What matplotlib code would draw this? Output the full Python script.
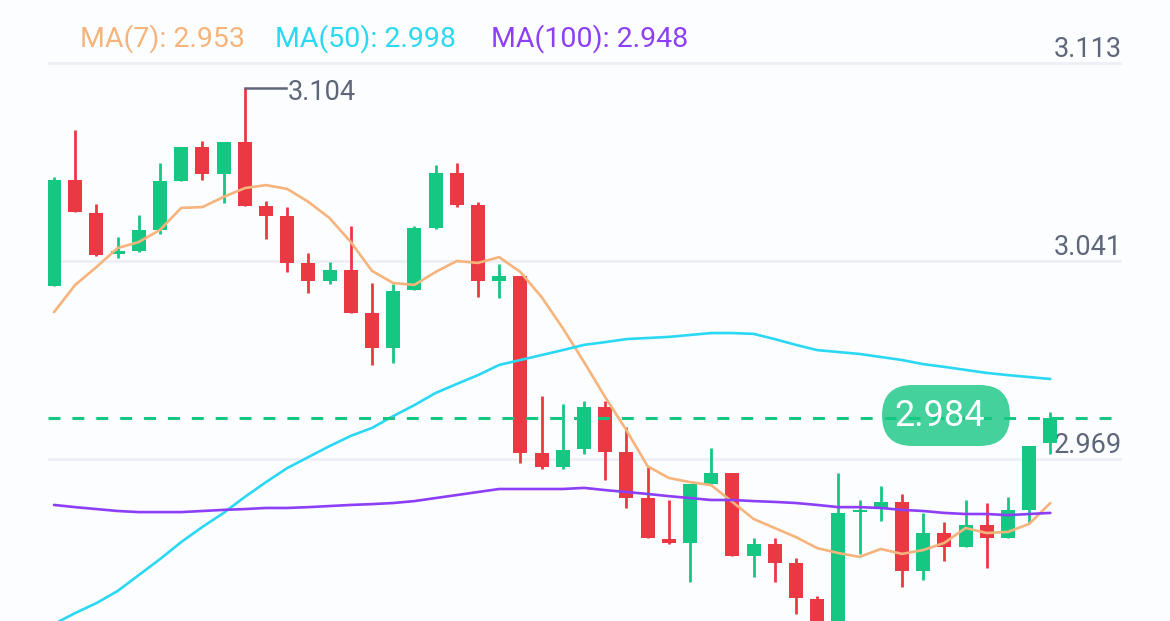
import numpy as np
import matplotlib.pyplot as plt
import matplotlib.patches as mpatches
import matplotlib.transforms as mtransforms

plt.rcParams['font.family'] = ['Roboto', 'DejaVu Sans']
plt.rcParams['lines.scale_dashes'] = False

# candles
opens = [3.0319, 3.0705, 3.0585, 3.0435, 3.0446, 3.0523, 3.0701, 3.0825, 3.0726, 3.0843,
         3.0610, 3.0574, 3.0403, 3.0337, 3.0377, 3.0221, 3.0094, 3.0305, 3.0530, 3.0730,
         3.0614, 3.0337, 3.0355, 2.9712, 2.9661, 2.9726, 2.9879, 2.9715, 2.9548, 2.9399,
         2.9385, 2.9599, 2.9639, 2.9337, 2.9381, 2.9312, 2.9181, 2.9060, 2.9497, 2.9512,
         2.9534, 2.9283, 2.9421, 2.9370, 2.9450, 2.9403, 2.9505, 2.9748]
highs = [3.0715, 3.0886, 3.0617, 3.0497, 3.0577, 3.0766, 3.0825, 3.0846, 3.0843, 3.1040,
         3.0628, 3.0606, 3.0439, 3.0406, 3.0537, 3.0330, 3.0326, 3.0537, 3.0759, 3.0766,
         3.0625, 3.0399, 3.0355, 2.9919, 2.9890, 2.9901, 2.9901, 2.9806, 2.9661, 2.9541,
         2.9599, 2.9730, 2.9639, 2.9403, 2.9403, 2.9330, 2.9192, 2.9639, 2.9541, 2.9592,
         2.9563, 2.9494, 2.9461, 2.9541, 2.9530, 2.9552, 2.9737, 2.9861]
lows = [3.0319, 3.0588, 3.0428, 3.0421, 3.0443, 3.0508, 3.0701, 3.0705, 3.0621, 3.0610,
        3.0490, 3.0370, 3.0294, 3.0326, 3.0221, 3.0032, 3.0039, 3.0305, 3.0526, 3.0606,
        3.0279, 3.0275, 2.9675, 2.9654, 2.9654, 2.9708, 2.9614, 2.9512, 2.9403, 2.9381,
        2.9243, 2.9599, 2.9337, 2.9261, 2.9243, 2.9126, 2.9030, 2.9020, 2.9345, 2.9465,
        2.9225, 2.9250, 2.9319, 2.9370, 2.9294, 2.9403, 2.9457, 2.9708]
closes = [3.0705, 3.0588, 3.0432, 3.0446, 3.0523, 3.0701, 3.0825, 3.0726, 3.0843, 3.0610,
          3.0574, 3.0403, 3.0337, 3.0377, 3.0221, 3.0094, 3.0301, 3.0530, 3.0730, 3.0614,
          3.0337, 3.0355, 2.9712, 2.9661, 2.9723, 2.9879, 2.9715, 2.9548, 2.9403, 2.9385,
          2.9599, 2.9639, 2.9337, 2.9381, 2.9312, 2.9185, 2.9060, 2.9494, 2.9505, 2.9534,
          2.9283, 2.9421, 2.9370, 2.9450, 2.9403, 2.9505, 2.9737, 2.9840]

ma7 = [3.0224, 3.0323, 3.0388, 3.0457, 3.0479, 3.0523, 3.0603, 3.0606, 3.0643, 3.0675,
       3.0686, 3.0672, 3.0625, 3.0566, 3.0479, 3.0374, 3.0330, 3.0323, 3.0370, 3.0410,
       3.0403, 3.0424, 3.0370, 3.0279, 3.0166, 3.0043, 2.9915, 2.9795, 2.9664, 2.9621,
       2.9606, 2.9595, 2.9534, 2.9472, 2.9439, 2.9406, 2.9366, 2.9348, 2.9334, 2.9363,
       2.9345, 2.9359, 2.9385, 2.9439, 2.9421, 2.9425, 2.9454, 2.9530]
ma50 = [2.9090, 2.9130, 2.9166, 2.9210, 2.9268, 2.9326, 2.9388, 2.9443, 2.9494, 2.9552,
        2.9606, 2.9657, 2.9697, 2.9737, 2.9774, 2.9803, 2.9846, 2.9886, 2.9930, 2.9963,
        2.9995, 3.0032, 3.0050, 3.0068, 3.0086, 3.0105, 3.0115, 3.0126, 3.0130, 3.0134,
        3.0141, 3.0148, 3.0148, 3.0145, 3.0126, 3.0105, 3.0086, 3.0079, 3.0072, 3.0061,
        3.0050, 3.0035, 3.0025, 3.0014, 3.0003, 2.9995, 2.9988, 2.9981]
ma100 = [2.9523, 2.9515, 2.9508, 2.9501, 2.9497, 2.9497, 2.9497, 2.9501, 2.9505, 2.9508,
         2.9512, 2.9512, 2.9515, 2.9519, 2.9523, 2.9526, 2.9530, 2.9537, 2.9548, 2.9559,
         2.9570, 2.9581, 2.9581, 2.9581, 2.9581, 2.9585, 2.9577, 2.9570, 2.9563, 2.9555,
         2.9548, 2.9541, 2.9541, 2.9537, 2.9534, 2.9530, 2.9523, 2.9515, 2.9515, 2.9512,
         2.9505, 2.9501, 2.9494, 2.9490, 2.9490, 2.9486, 2.9490, 2.9494]

grid_prices = [3.113, 3.041, 2.969]
grid_labels = ['3.113', '3.041', '2.969']
last_price = 2.984
high_price = 3.104
legend_texts = ['MA(7): 2.953', 'MA(50): 2.998', 'MA(100): 2.948']

GREEN = '#16C784'
RED = '#EA3943'
MA_COLORS = ['#F6B47C', '#2BD8F4', '#8C3FF6']
LABEL_COLOR = '#5E6679'

fig = plt.figure(figsize=(11.7, 6.21), dpi=100)
fig.patch.set_facecolor('#FCFDFE')
ax = fig.add_axes([48 / 1170, 0, 1074 / 1170, 1])
ax.set_facecolor('#FCFDFE')
ax.set_xlim(-0.283, 50.38)
ax.set_ylim(2.9101, 3.1359)
for s in ax.spines.values():
    s.set_visible(False)
ax.set_xticks([])
ax.set_yticks([])

x = np.arange(len(opens))
o = np.array(opens)
c = np.array(closes)
cols = [GREEN if cc >= oo else RED for oo, cc in zip(o, c)]

# grid + price labels
trans = mtransforms.blended_transform_factory(ax.transAxes, ax.transData)
for p, lab in zip(grid_prices, grid_labels):
    ax.axhline(p, color='#EEEFF4', lw=2, zorder=0)
    ax.text(0.9995, p + 0.0001, lab, transform=trans, ha='right', va='bottom',
            fontsize=19.5, color=LABEL_COLOR, zorder=1)

# candles
ax.vlines(x, lows, highs, colors=cols, lw=2, zorder=2)
heights = np.maximum(np.abs(c - o), 0.0006)
ax.bar(x, heights, bottom=np.minimum(o, c), width=0.66, color=cols, zorder=3)

# moving averages
for vals, col in zip([ma7, ma50, ma100], MA_COLORS):
    ax.plot(x, vals, color=col, lw=1.9, zorder=4, solid_capstyle='round')

# last price line
ax.axhline(last_price, color=GREEN, lw=2.2, dashes=(8.6, 8.6), zorder=5)

# highest marker
hi = int(np.argmax(highs))
ax.plot([hi, hi + 1.95], [high_price, high_price], color=LABEL_COLOR, lw=1.8, zorder=5)
ax.text(hi + 2.05, high_price - 0.0016, '3.104', ha='left', va='center',
        fontsize=19.5, color=LABEL_COLOR, zorder=5)

# last price pill
pill = mpatches.FancyBboxPatch((882, 175), 128, 61,
                               boxstyle='round,pad=0,rounding_size=30.5',
                               transform=mtransforms.IdentityTransform(),
                               fc=GREEN, ec='none', alpha=0.8, zorder=6)
ax.add_patch(pill)
ax.text(940 / 1170, 1 - 416 / 621, '2.984', transform=fig.transFigure,
        ha='center', va='center', fontsize=26, color='white', zorder=7)

# MA legend
xs = [80, 275, 491]
for t, xx, col in zip(legend_texts, xs, MA_COLORS):
    fig.text(xx / 1170, 1 - 39 / 621, t, ha='left', va='center', fontsize=20.5, color=col)

fig.savefig('out.png', dpi=100, facecolor=fig.get_facecolor())
